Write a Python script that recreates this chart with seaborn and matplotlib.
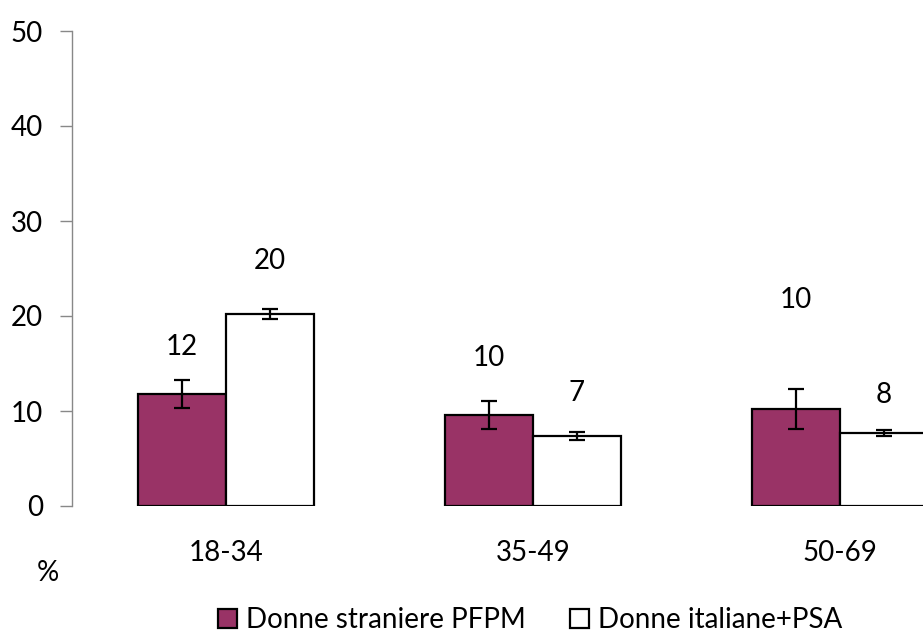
import pandas as pd
import matplotlib.pyplot as plt
import seaborn as sns
from matplotlib.patches import Patch

# data
ages = ['18-34', '35-49', '50-69']
straniere = [11.8, 9.6, 10.2]
italiane = [20.2, 7.4, 7.7]
err_straniere = [1.5, 1.5, 2.1]
err_italiane = [0.5, 0.4, 0.3]
# y where the value labels sit (placed by hand in the original)
lab_y_straniere = [16.7, 15.6, 21.7]
lab_y_italiane = [25.8, 11.9, 11.7]
groups = ['Donne straniere PFPM', 'Donne italiane+PSA']

df = pd.DataFrame({
    'Età': ages * 2,
    'Valore': straniere + italiane,
    'Gruppo': [groups[0]] * 3 + [groups[1]] * 3,
})

sns.set_style('white')
plt.rcParams['font.family'] = ['Lato', 'DejaVu Sans']
plt.rcParams['text.color'] = 'black'
plt.rcParams['xtick.color'] = 'black'
plt.rcParams['ytick.color'] = 'black'

fs = 20

fig = plt.figure(figsize=(9.23, 6.43), dpi=100)
ax = fig.add_axes([72 / 923, 137 / 643, 921.5 / 923, 475 / 643])

colors = {groups[0]: '#993366', groups[1]: '#ffffff'}
sns.barplot(data=df, x='Età', y='Valore', hue='Gruppo', palette=colors,
            saturation=1, width=0.573, edgecolor='black', linewidth=1.6,
            legend=False, ax=ax)

# error bars and value labels on top of each bar
bars = ax.patches
vals = straniere + italiane
errs = err_straniere + err_italiane
lab_y = lab_y_straniere + lab_y_italiane
for b, v, e, ly in zip(bars, vals, errs, lab_y):
    xc = b.get_x() + b.get_width() / 2
    ax.errorbar(xc, v, yerr=e, fmt='none', ecolor='black', elinewidth=1.6,
                capsize=6, capthick=1.6, zorder=5)
    ax.text(xc, ly, f'{round(v):d}', ha='center', va='center', fontsize=fs)

ax.set_xlim(-0.5, 2.5)
ax.set_ylim(0, 50)
ax.set_yticks(range(0, 51, 10))
ax.set_xlabel('')
ax.set_ylabel('')
for s in ['top', 'right', 'bottom']:
    ax.spines[s].set_visible(False)
ax.spines['left'].set_color('#888888')
ax.spines['left'].set_linewidth(1)
ax.tick_params(axis='y', left=True, length=9, width=1, color='#888888',
               labelcolor='black', labelsize=fs, pad=12)
ax.tick_params(axis='x', bottom=False, labelcolor='black', labelsize=fs, pad=21)

fig.text(48 / 923, 1 - 573 / 643, '%', ha='center', va='center', fontsize=fs)

handles = [Patch(facecolor=colors[g], edgecolor='black', linewidth=1.6) for g in groups]
fig.legend(handles, groups, loc='center', bbox_to_anchor=(530 / 923, 1 - 620 / 643),
           ncol=2, frameon=False, fontsize=fs, handlelength=0.7, handleheight=0.7,
           handletextpad=0.3, columnspacing=1.6)

fig.savefig('out.png', dpi=100)
